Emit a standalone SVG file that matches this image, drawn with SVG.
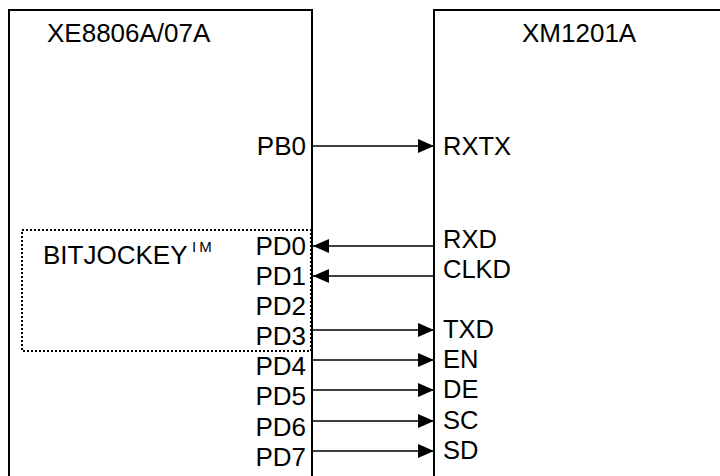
<svg xmlns="http://www.w3.org/2000/svg" width="720" height="476" viewBox="0 0 720 476">
<style>
text{font-family:"Liberation Sans",Arial,sans-serif;fill:#000}
.t{font-size:26px}
.l{font-size:26px}
.r{font-size:25.5px}
.e{text-anchor:end}
.box{fill:none;stroke:#000;stroke-width:2}
.dot{fill:none;stroke:#000;stroke-width:2;stroke-dasharray:2 2}
.c{stroke:#000;stroke-width:1.6;fill:none;marker-end:url(#ah)}
</style>
<defs>
<marker id="ah" viewBox="0 0 16 14" refX="16" refY="7" markerWidth="16" markerHeight="14" markerUnits="userSpaceOnUse" orient="auto">
<path d="M0,0 L16,7 L0,14 z" fill="#000"/>
</marker>
</defs>
<rect width="720" height="476" fill="#fff"/>
<g id="xe8806a">
<path class="box" d="M9,477 V10 H312 V477"/>
<text class="t" x="47" y="42">XE8806A/07A</text>
<text class="l e" x="306" y="155">PB0</text>
<text class="l e" x="306" y="254.5">PD0</text>
<text class="l e" x="306" y="284.5">PD1</text>
<text class="l e" x="306" y="314.5">PD2</text>
<text class="l e" x="306" y="345">PD3</text>
<text class="l e" x="306" y="375">PD4</text>
<text class="l e" x="306" y="405">PD5</text>
<text class="l e" x="306" y="435.5">PD6</text>
<text class="l e" x="306" y="466">PD7</text>
</g>
<g id="bitjockey">
<rect class="dot" x="22" y="230" width="289" height="121"/>
<text class="l" x="43" y="264">BITJOCKEY</text>
<text x="192" y="252" style="font-size:15px;letter-spacing:3px">IM</text>
</g>
<g id="xm1201a">
<path class="box" d="M434,477 V10 H721"/>
<text class="t" x="522" y="42">XM1201A</text>
<text class="r" x="443" y="155">RXTX</text>
<text class="r" x="443" y="248">RXD</text>
<text class="r" x="443" y="278">CLKD</text>
<text class="r" x="443" y="338">TXD</text>
<text class="r" x="443" y="368">EN</text>
<text class="r" x="443" y="398">DE</text>
<text class="r" x="443" y="429">SC</text>
<text class="r" x="443" y="459">SD</text>
</g>
<g id="connectors">
<line class="c" x1="313" y1="146" x2="434" y2="146"/>
<line class="c" x1="433" y1="246" x2="313" y2="246"/>
<line class="c" x1="433" y1="276" x2="313" y2="276"/>
<line class="c" x1="313" y1="330" x2="434" y2="330"/>
<line class="c" x1="313" y1="360" x2="434" y2="360"/>
<line class="c" x1="313" y1="390" x2="434" y2="390"/>
<line class="c" x1="313" y1="421" x2="434" y2="421"/>
<line class="c" x1="313" y1="451" x2="434" y2="451"/>
</g>
</svg>
